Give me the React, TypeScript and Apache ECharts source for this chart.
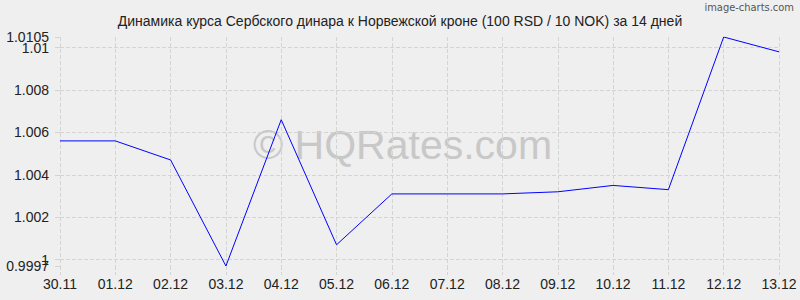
import React, { useEffect, useRef } from "react";
import * as echarts from "echarts";

const title = "Динамика курса Сербского динара к Норвежской кроне (100 RSD / 10 NOK) за 14 дней";
const categories = ["30.11", "01.12", "02.12", "03.12", "04.12", "05.12", "06.12", "07.12", "08.12", "09.12", "10.12", "11.12", "12.12", "13.12"];
const values = [1.0056, 1.0056, 1.0047, 0.9997, 1.0066, 1.0007, 1.0031, 1.0031, 1.0031, 1.0032, 1.0035, 1.0033, 1.0105, 1.0098];
const yTicks = [1, 1.002, 1.004, 1.006, 1.008, 1.01];
const yEdgeTicks = [0.9997, 1.0105];
const yMin = 0.9997;
const yMax = 1.0105;

export default function App() {
  const ref = useRef<HTMLDivElement>(null);
  useEffect(() => {
    if (!ref.current) return;
    const chart = echarts.init(ref.current, null, { renderer: "svg" });
    const gridColor = "#d4d4d4";
    const fmt = (v: number) => String(+v.toFixed(4));
    const yBase = (ticks: number[], split: boolean) => ({
      type: "value",
      min: yMin,
      max: yMax,
      position: "left",
      offset: 0,
      axisLine: { show: false },
      axisTick: { show: true, length: 5, customValues: ticks, lineStyle: { color: gridColor } },
      axisLabel: {
        color: "#222",
        fontSize: 14,
        margin: 11,
        customValues: ticks,
        hideOverlap: false,
        showMinLabel: true,
        showMaxLabel: true,
        formatter: fmt,
      },
      splitLine: { show: split, lineStyle: { color: gridColor, type: "dashed" } },
    });
    chart.setOption({
      animation: false,
      backgroundColor: "#efefef",
      textStyle: { fontFamily: "Liberation Sans, Arial, sans-serif" },
      title: {
        text: title,
        left: "center",
        top: 9,
        textStyle: { fontSize: 14, fontWeight: "normal", color: "#222", fontFamily: "Liberation Sans, Arial, sans-serif" },
      },
      graphic: [
        {
          type: "text",
          right: 6,
          top: 2,
          style: { text: "image-charts.com", fontSize: 11, fill: "#555", fontFamily: "DejaVu Sans Condensed, DejaVu Sans, sans-serif" },
        },
        {
          type: "text",
          left: 253,
          top: 124,
          z: 0,
          style: { text: "© HQRates.com", fontSize: 41, fill: "#c8c8c8", fontFamily: "Liberation Sans, Arial, sans-serif" },
        },
      ],
      grid: { left: 60, right: 21, top: 37, bottom: 34 },
      xAxis: {
        type: "category",
        data: categories,
        boundaryGap: false,
        axisLine: { show: false },
        axisTick: { show: true, length: 9, lineStyle: { color: gridColor, type: "dashed" } },
        axisLabel: { color: "#222", fontSize: 14, margin: 11 },
        splitLine: { show: true, lineStyle: { color: gridColor, type: "dashed" } },
      },
      yAxis: [yBase(yTicks, true), yBase(yEdgeTicks, false)],
      series: [
        {
          type: "line",
          data: values,
          symbol: "none",
          yAxisIndex: 0,
          lineStyle: { color: "#0000ff", width: 1 },
          z: 5,
          markLine: {
            silent: true,
            symbol: "none",
            label: { show: false },
            lineStyle: { color: gridColor, type: "dashed", width: 1 },
            data: [{ yAxis: yMin }, { yAxis: yMax }],
            z: 1,
          },
        },
      ],
    });
    return () => chart.dispose();
  }, []);
  return <div ref={ref} style={{ width: 800, height: 300, position: "absolute", left: 0, top: 0 }} />;
}
